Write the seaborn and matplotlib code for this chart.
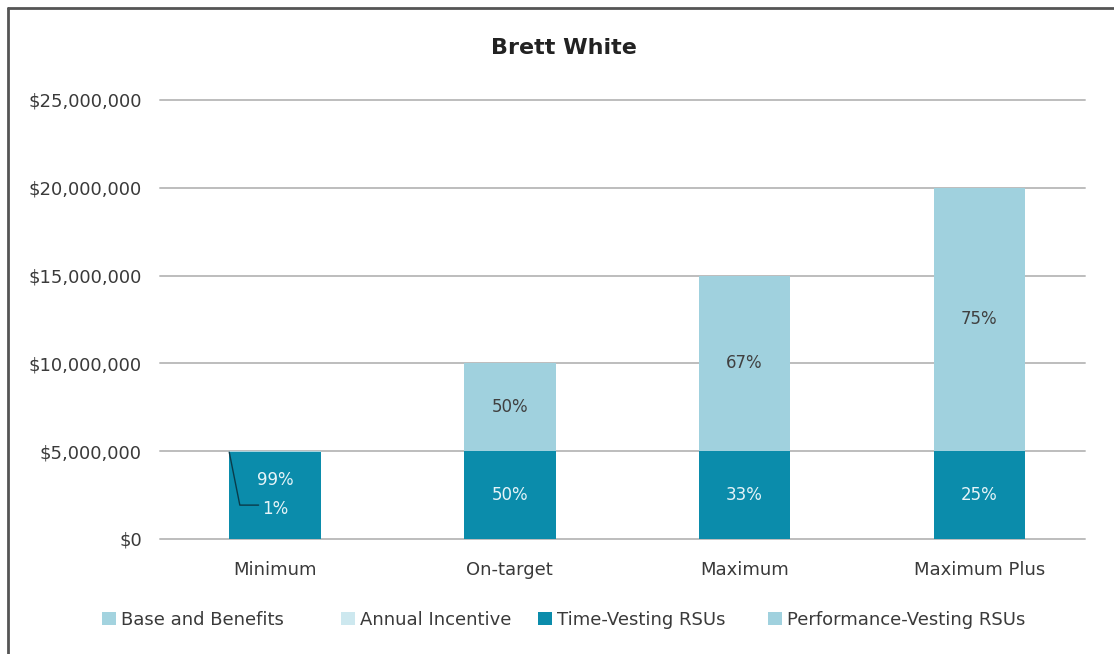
import matplotlib
matplotlib.use("Agg")
import matplotlib.pyplot as plt
import seaborn as sns
import pandas as pd
import numpy as np
from matplotlib.patches import Patch
from matplotlib.lines import Line2D

# ---- data ----
categories = ["Minimum", "On-target", "Maximum", "Maximum Plus"]
series_names = ["Base and Benefits", "Annual Incentive", "Time-Vesting RSUs", "Performance-Vesting RSUs"]
base_benefits = [50000, 0, 0, 0]
annual_incentive = [0, 0, 0, 0]
time_vesting = [4950000, 5000000, 5000000, 5000000]
perf_vesting = [0, 5000000, 10000000, 15000000]
yticks = [0, 5000000, 10000000, 15000000, 20000000, 25000000]
ytick_labels = ["$0", "$5,000,000", "$10,000,000", "$15,000,000", "$20,000,000", "$25,000,000"]
# percentage labels: (category index, y value, text, series)
label_cat = [0, 0, 1, 1, 2, 2, 3, 3]
label_y = [3350000, 1700000, 2500000, 7500000, 2500000, 10000000, 2500000, 12500000]
label_txt = ["99%", "1%", "50%", "50%", "33%", "67%", "25%", "75%"]
label_dark = [True, True, True, False, True, False, True, False]

colors = {
    "Base and Benefits": "#a3d3df",
    "Annual Incentive": "#cde8ef",
    "Time-Vesting RSUs": "#0b8cab",
    "Performance-Vesting RSUs": "#a0d1de",
}

sns.set_theme(style="white")
plt.rcParams["font.family"] = ["DejaVu Sans"]
text_color = "#3a3a3a"

fig = plt.figure(figsize=(11.14, 6.54), dpi=100)
ax = fig.add_axes([160/1114, 1-539/654, (1085-160)/1114, (539-100)/654])

# stacking order (bottom to top): time, base, annual, performance
c1 = np.array(time_vesting, dtype=float)
c2 = c1 + np.array(base_benefits)
c3 = c2 + np.array(annual_incentive)
c4 = c3 + np.array(perf_vesting)

layers = [(c4, "Performance-Vesting RSUs"), (c3, "Annual Incentive"),
          (c2, "Base and Benefits"), (c1, "Time-Vesting RSUs")]
for vals, name in layers:
    df = pd.DataFrame({"cat": categories, "val": vals})
    sns.barplot(data=df, x="cat", y="val", order=categories, color=colors[name],
                width=0.39, saturation=1, ax=ax, errorbar=None, linewidth=0)

ax.set_xlim(-0.49, 3.45)
ax.set_ylim(0, 25000000)
ax.set_yticks(yticks)
ax.set_yticklabels(ytick_labels)
ax.set_xlabel("")
ax.set_ylabel("")
for s in ax.spines.values():
    s.set_visible(False)
ax.set_axisbelow(True)
ax.yaxis.grid(True, color="#bdbdbd", linewidth=1.4)
ax.xaxis.grid(False)
ax.tick_params(axis="y", length=0, pad=13, labelsize=13, labelcolor=text_color)
ax.tick_params(axis="x", length=0, pad=16, labelsize=13, labelcolor=text_color)
for gl in ax.get_ygridlines():
    gl.set_clip_on(False)

for ci, yv, t, dark in zip(label_cat, label_y, label_txt, label_dark):
    ax.text(ci, yv, t, ha="center", va="center", fontsize=12,
            color="#e6f4f8" if dark else "#404040")

# leader line for the 1% label
ax.add_line(Line2D([-0.195, -0.15, -0.07], [4940000, 1930000, 1930000],
                   color="#0a3b4a", linewidth=1))

fig.text(0.506, 1-48/654, "Brett White", ha="center", va="center",
         fontsize=16, fontweight="semibold", color="#222222")

# legend entries
leg_x = [102/1114, 341/1114, 538/1114, 768/1114]
for name, lx in zip(series_names, leg_x):
    fig.legend(handles=[Patch(facecolor=colors[name], edgecolor="none", label=name)],
               loc="center left", bbox_to_anchor=(lx, 1-620/654), frameon=False,
               fontsize=13, handlelength=0.75, handleheight=0.75, handletextpad=0.3,
               borderpad=0, borderaxespad=0, labelcolor=text_color)

# figure frame (left and top)
fig.add_artist(Line2D([7.5/1114, 7.5/1114], [0, 1-7.5/654], transform=fig.transFigure,
                      color="#555555", linewidth=2))
fig.add_artist(Line2D([7.5/1114, 1], [1-7.5/654, 1-7.5/654], transform=fig.transFigure,
                      color="#555555", linewidth=2))

fig.savefig("out.png", dpi=100, facecolor="white")
